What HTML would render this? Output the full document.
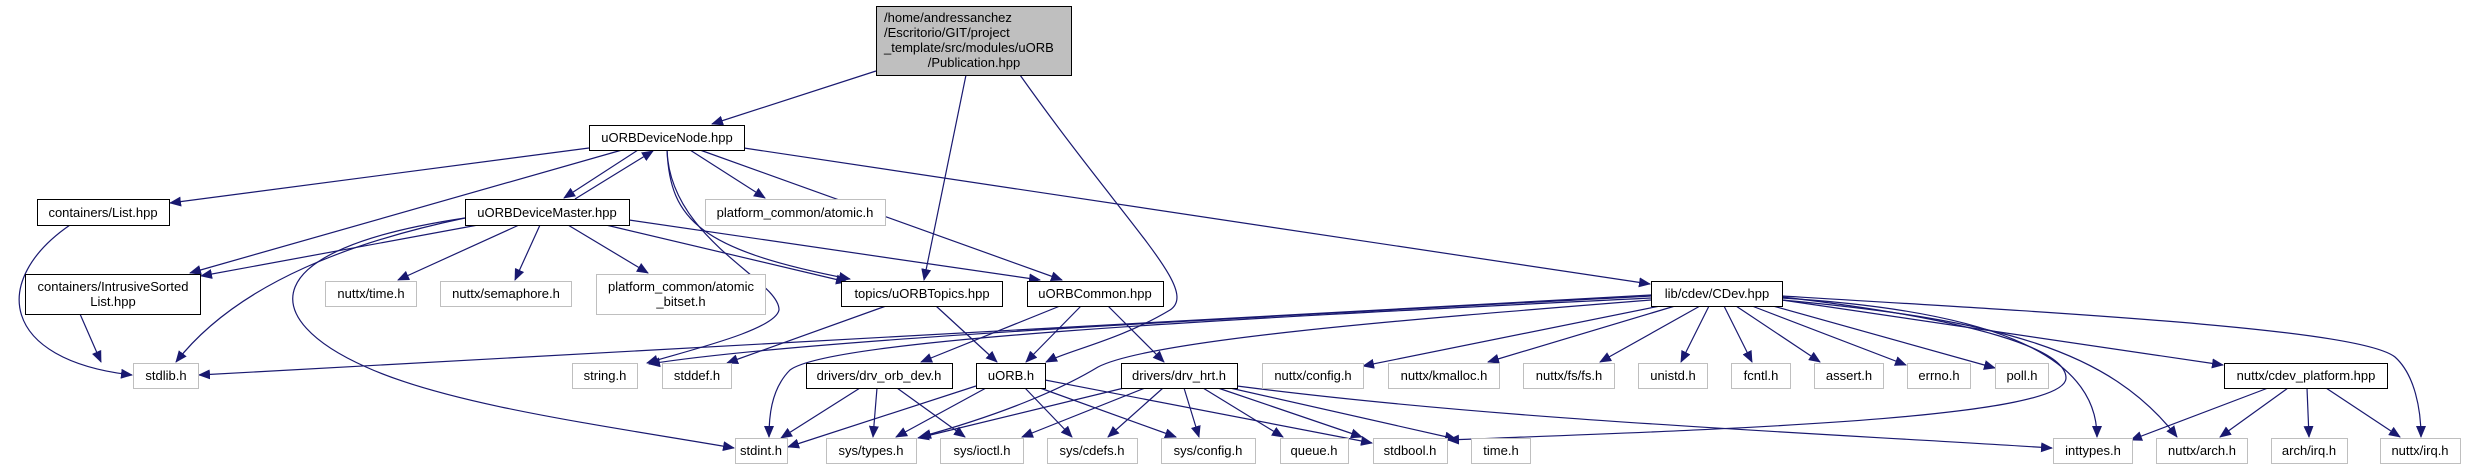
<!DOCTYPE html>
<html><head><meta charset="utf-8"><style>
html,body{margin:0;padding:0;background:#fff}
svg{display:block}
text{font-family:"Liberation Sans",sans-serif;font-size:13px;fill:#000}
.e{fill:none;stroke:#191970;stroke-width:1.2}
.n{fill:#fff;stroke:#000;stroke-width:1}
.g{fill:#fff;stroke:#bfbfbf;stroke-width:1}
</style></head><body>
<svg width="2466" height="469" viewBox="0 0 2466 469" xmlns="http://www.w3.org/2000/svg">
<defs><marker id="a" markerWidth="12" markerHeight="10" refX="11" refY="5" orient="auto" markerUnits="userSpaceOnUse"><path d="M0,0 L12,5 L0,10 z" fill="#191970"/></marker></defs>
<g marker-end="url(#a)">
<path class="e" d="M876,71 L712,124"/>
<path class="e" d="M966,75 L924,280"/>
<path class="e" d="M1020,75 C1130,230 1200,290 1170,310 C1120,340 1070,350 1046,362"/>
<path class="e" d="M589,148 L170,203"/>
<path class="e" d="M622,150 L190,273"/>
<path class="e" d="M638,150 L564,198"/>
<path class="e" d="M575,199 L653,151"/>
<path class="e" d="M690,150 L765,198"/>
<path class="e" d="M667,150 C670,220 700,250 850,279"/>
<path class="e" d="M667,150 C670,240 780,280 779,310 C775,330 690,350 647,363"/>
<path class="e" d="M700,150 L1062,280"/>
<path class="e" d="M744,148 L1650,284"/>
<path class="e" d="M478,225 L201,276"/>
<path class="e" d="M465,218 C360,240 240,280 176,362"/>
<path class="e" d="M465,218 C250,250 260,320 366,367 C450,405 600,425 734,448"/>
<path class="e" d="M519,225 L398,280"/>
<path class="e" d="M540,225 L515,280"/>
<path class="e" d="M568,225 L648,273"/>
<path class="e" d="M606,225 L847,282"/>
<path class="e" d="M629,220 L1040,280"/>
<path class="e" d="M886,306 L727,363"/>
<path class="e" d="M936,306 L997,362"/>
<path class="e" d="M1060,306 L921,362"/>
<path class="e" d="M1081,306 L1026,362"/>
<path class="e" d="M1108,306 L1164,362"/>
<path class="e" d="M860,388 L781,438"/>
<path class="e" d="M877,388 L873,437"/>
<path class="e" d="M897,388 L965,437"/>
<path class="e" d="M976,386 L788,447"/>
<path class="e" d="M986,388 L896,437"/>
<path class="e" d="M1025,388 L1072,437"/>
<path class="e" d="M1040,388 L1176,437"/>
<path class="e" d="M1045,380 L1372,443"/>
<path class="e" d="M1124,388 L918,438"/>
<path class="e" d="M1145,388 L1022,437"/>
<path class="e" d="M1163,388 L1108,437"/>
<path class="e" d="M1184,388 L1199,437"/>
<path class="e" d="M1203,388 L1283,437"/>
<path class="e" d="M1218,388 L1362,437"/>
<path class="e" d="M1230,388 L1456,439"/>
<path class="e" d="M1237,386 C1500,420 1800,432 2052,448"/>
<path class="e" d="M70,225 C-10,280 0,360 132,375"/>
<path class="e" d="M80,314 L101,362"/>
<path class="e" d="M1651,295 L199,375"/>
<path class="e" d="M1651,296 C1200,320 800,340 649,364"/>
<path class="e" d="M1651,298 C1200,320 830,340 790,370 C770,390 769,420 769,437"/>
<path class="e" d="M1651,300 C1400,320 1150,340 1098,367 C1060,390 1000,415 920,437"/>
<path class="e" d="M1660,306 L1363,366"/>
<path class="e" d="M1675,306 L1488,362"/>
<path class="e" d="M1700,306 L1600,362"/>
<path class="e" d="M1709,306 L1681,362"/>
<path class="e" d="M1724,306 L1752,362"/>
<path class="e" d="M1736,306 L1820,362"/>
<path class="e" d="M1752,306 L1906,365"/>
<path class="e" d="M1773,306 L1995,368"/>
<path class="e" d="M1782,300 L2223,365"/>
<path class="e" d="M1782,297 C1980,320 2066,350 2066,378 C2066,420 1700,430 1448,440"/>
<path class="e" d="M1782,298 C1980,310 2097,350 2097,437"/>
<path class="e" d="M1782,300 C2000,320 2110,350 2177,437"/>
<path class="e" d="M1782,296 C2100,315 2360,330 2395,357 C2415,375 2421,410 2421,437"/>
<path class="e" d="M2268,388 L2131,440"/>
<path class="e" d="M2288,388 L2220,437"/>
<path class="e" d="M2307,388 L2309,437"/>
<path class="e" d="M2326,388 L2400,437"/>
</g>
<!-- nodes -->
<rect x="876.5" y="6.5" width="195" height="69" fill="#bfbfbf" stroke="#000"/>
<text x="884" y="22">/home/andressanchez</text>
<text x="884" y="37">/Escritorio/GIT/project</text>
<text x="884" y="52">_template/src/modules/uORB</text>
<text x="974" y="67" text-anchor="middle">/Publication.hpp</text>
<g text-anchor="middle">
<rect class="n" x="589.5" y="125.5" width="155" height="25"/><text x="667" y="142">uORBDeviceNode.hpp</text>
<rect class="n" x="37.5" y="199.5" width="132" height="26"/><text x="103" y="217">containers/List.hpp</text>
<rect class="n" x="465.5" y="199.5" width="164" height="26"/><text x="547" y="217">uORBDeviceMaster.hpp</text>
<rect class="g" x="705.5" y="199.5" width="180" height="26"/><text x="795" y="217">platform_common/atomic.h</text>
<rect class="n" x="25.5" y="274.5" width="175" height="40"/><text x="113" y="291">containers/IntrusiveSorted</text><text x="113" y="306">List.hpp</text>
<rect class="g" x="325.5" y="281.5" width="91" height="25"/><text x="371" y="298">nuttx/time.h</text>
<rect class="g" x="440.5" y="281.5" width="131" height="25"/><text x="506" y="298">nuttx/semaphore.h</text>
<rect class="g" x="596.5" y="274.5" width="169" height="40"/><text x="681" y="291">platform_common/atomic</text><text x="681" y="306">_bitset.h</text>
<rect class="n" x="841.5" y="281.5" width="161" height="25"/><text x="922" y="298">topics/uORBTopics.hpp</text>
<rect class="n" x="1027.5" y="281.5" width="136" height="25"/><text x="1095" y="298">uORBCommon.hpp</text>
<rect class="n" x="1651.5" y="281.5" width="131" height="25"/><text x="1717" y="298">lib/cdev/CDev.hpp</text>
<rect class="g" x="133.5" y="363.5" width="65" height="25"/><text x="166" y="380">stdlib.h</text>
<rect class="g" x="572.5" y="363.5" width="65" height="25"/><text x="605" y="380">string.h</text>
<rect class="g" x="662.5" y="363.5" width="69" height="25"/><text x="697" y="380">stddef.h</text>
<rect class="n" x="806.5" y="363.5" width="146" height="25"/><text x="879" y="380">drivers/drv_orb_dev.h</text>
<rect class="n" x="976.5" y="363.5" width="69" height="25"/><text x="1011" y="380">uORB.h</text>
<rect class="n" x="1121.5" y="363.5" width="116" height="25"/><text x="1179" y="380">drivers/drv_hrt.h</text>
<rect class="g" x="1262.5" y="363.5" width="101" height="25"/><text x="1313" y="380">nuttx/config.h</text>
<rect class="g" x="1388.5" y="363.5" width="111" height="25"/><text x="1444" y="380">nuttx/kmalloc.h</text>
<rect class="g" x="1523.5" y="363.5" width="91" height="25"/><text x="1569" y="380">nuttx/fs/fs.h</text>
<rect class="g" x="1638.5" y="363.5" width="69" height="25"/><text x="1673" y="380">unistd.h</text>
<rect class="g" x="1731.5" y="363.5" width="59" height="25"/><text x="1761" y="380">fcntl.h</text>
<rect class="g" x="1814.5" y="363.5" width="69" height="25"/><text x="1849" y="380">assert.h</text>
<rect class="g" x="1907.5" y="363.5" width="63" height="25"/><text x="1939" y="380">errno.h</text>
<rect class="g" x="1995.5" y="363.5" width="53" height="25"/><text x="2022" y="380">poll.h</text>
<rect class="n" x="2224.5" y="363.5" width="163" height="25"/><text x="2306" y="380">nuttx/cdev_platform.hpp</text>
<rect class="g" x="735.5" y="438.5" width="52" height="25"/><text x="761" y="455">stdint.h</text>
<rect class="g" x="826.5" y="438.5" width="90" height="25"/><text x="871" y="455">sys/types.h</text>
<rect class="g" x="940.5" y="438.5" width="83" height="25"/><text x="982" y="455">sys/ioctl.h</text>
<rect class="g" x="1047.5" y="438.5" width="90" height="25"/><text x="1092" y="455">sys/cdefs.h</text>
<rect class="g" x="1161.5" y="438.5" width="94" height="25"/><text x="1208" y="455">sys/config.h</text>
<rect class="g" x="1280.5" y="438.5" width="68" height="25"/><text x="1314" y="455">queue.h</text>
<rect class="g" x="1373.5" y="438.5" width="74" height="25"/><text x="1410" y="455">stdbool.h</text>
<rect class="g" x="1471.5" y="438.5" width="59" height="25"/><text x="1501" y="455">time.h</text>
<rect class="g" x="2053.5" y="438.5" width="79" height="25"/><text x="2093" y="455">inttypes.h</text>
<rect class="g" x="2156.5" y="438.5" width="91" height="25"/><text x="2202" y="455">nuttx/arch.h</text>
<rect class="g" x="2271.5" y="438.5" width="76" height="25"/><text x="2309" y="455">arch/irq.h</text>
<rect class="g" x="2380.5" y="438.5" width="80" height="25"/><text x="2420" y="455">nuttx/irq.h</text>
</g>
</svg>
</body></html>
